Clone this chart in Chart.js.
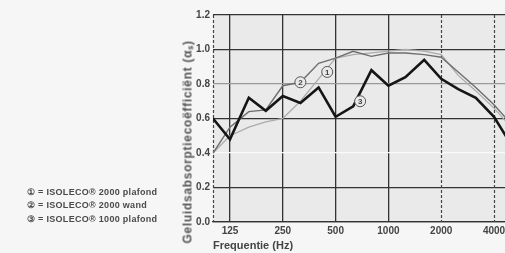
<!DOCTYPE html>
<html>
<head>
<meta charset="utf-8">
<script src="https://cdn.jsdelivr.net/npm/chart.js@4/dist/chart.umd.min.js"></script>
<style>
  html, body { margin: 0; padding: 0; background: #f6f6f6; overflow: hidden; }
  #wrap { position: absolute; left: 0; top: 0; width: 511px; height: 253px; }
  .legend { position: absolute; left: 27px; font: bold 9px "Liberation Sans", Arial, sans-serif; color: #4a4a4a;
            white-space: nowrap; letter-spacing: 0.3px; }
  #ytitle { position: absolute; left: 187px; top: 142px; transform: translate(-50%, -50%) rotate(-90deg);
            font: bold 12px "Liberation Sans", Arial, sans-serif; color: #555; white-space: nowrap; letter-spacing: 0.7px; }
</style>
</head>
<body>
<div id="wrap"><canvas id="myChart"></canvas></div>
<div class="legend" style="top:187px">① = ISOLECO® 2000 plafond</div>
<div class="legend" style="top:200px">② = ISOLECO® 2000 wand</div>
<div class="legend" style="top:214px">③ = ISOLECO® 1000 plafond</div>
<div id="ytitle">Geluidsabsorptiecoëfficiënt (αₛ)</div>
<script>
// third-octave frequencies (Hz)
const freqs = [100, 125, 160, 200, 250, 315, 400, 500, 630, 800, 1000, 1250, 1600, 2000, 2500, 3150, 4000, 5000];
// 1 = ISOLECO 2000 plafond
const plafond2000 = [0.40, 0.50, 0.55, 0.58, 0.60, 0.70, 0.83, 0.95, 0.97, 0.98, 0.99, 1.00, 0.99, 0.97, 0.85, 0.76, 0.66, 0.55];
// 2 = ISOLECO 2000 wand
const wand2000 = [0.40, 0.55, 0.64, 0.65, 0.79, 0.81, 0.92, 0.95, 0.99, 0.96, 0.98, 0.98, 0.97, 0.955, 0.87, 0.78, 0.68, 0.57];
// 3 = ISOLECO 1000 plafond
const plafond1000 = [0.60, 0.48, 0.72, 0.645, 0.73, 0.69, 0.78, 0.61, 0.67, 0.88, 0.79, 0.84, 0.94, 0.83, 0.77, 0.72, 0.61, 0.45];

const xTicks = [125, 250, 500, 1000, 2000, 4000];
const dashedX = [2000, 4000];

// circled curve labels, anchored in data units
const markerFreqs = [448, 315, 690];
const markerVals = [0.87, 0.81, 0.70];
const markerLabels = ["1", "2", "3"];

const tickFont = { family: "Liberation Sans", size: 10, weight: "bold" };

const plotBackground = {
    id: "plotBackground",
    beforeDraw(chart) {
        const { ctx, chartArea: a } = chart;
        ctx.save();
        ctx.fillStyle = "#eaeaea";
        ctx.fillRect(a.left, a.top, a.right - a.left, a.bottom - a.top);
        ctx.restore();
    },
    beforeDatasetsDraw(chart) {
        const { ctx, chartArea: a, scales } = chart;
        ctx.save();
        ctx.strokeStyle = "#444";
        ctx.lineWidth = 1.2;
        ctx.setLineDash([3, 2]);
        [scales.x.min, ...dashedX].forEach(f => {
            const px = Math.round(scales.x.getPixelForValue(f)) + 0.5;
            ctx.beginPath();
            ctx.moveTo(px, a.top);
            ctx.lineTo(px, a.bottom);
            ctx.stroke();
        });
        ctx.restore();
    }
};

const curveMarkers = {
    id: "curveMarkers",
    afterDatasetsDraw(chart) {
        const { ctx, scales } = chart;
        ctx.save();
        markerFreqs.forEach((f, i) => {
            const px = scales.x.getPixelForValue(f);
            const py = scales.y.getPixelForValue(markerVals[i]);
            ctx.beginPath();
            ctx.arc(px, py, 5.5, 0, Math.PI * 2);
            ctx.fillStyle = "#eaeaea";
            ctx.fill();
            ctx.lineWidth = 1;
            ctx.strokeStyle = "#555";
            ctx.stroke();
            ctx.fillStyle = "#444";
            ctx.font = "bold 8px 'Liberation Sans'";
            ctx.textAlign = "center";
            ctx.textBaseline = "middle";
            ctx.fillText(markerLabels[i], px, py + 0.5);
        });
        ctx.restore();
    }
};

function yGridColor(ctx) {
    const v = Math.round(ctx.tick.value * 10) / 10;
    if (v === 0.4) return "#fafafa";
    if (v === 0.8) return "#9a9a9a";
    return "#333";
}

function xGridColor(ctx) {
    if (dashedX.includes(ctx.tick.value)) return "rgba(0,0,0,0)";
    return "#333";
}

new Chart("myChart", {
    type: "line",
    data: {
        datasets: [
            {
                label: "ISOLECO 1000 plafond",
                data: freqs.map((f, i) => ({ x: f, y: plafond1000[i] })),
                borderColor: "#151515",
                borderWidth: 2.6,
                order: 0
            },
            {
                label: "ISOLECO 2000 wand",
                data: freqs.map((f, i) => ({ x: f, y: wand2000[i] })),
                borderColor: "#6e6e6e",
                borderWidth: 1.4,
                order: 1
            },
            {
                label: "ISOLECO 2000 plafond",
                data: freqs.map((f, i) => ({ x: f, y: plafond2000[i] })),
                borderColor: "#ababab",
                borderWidth: 1.3,
                order: 2
            }
        ]
    },
    options: {
        responsive: true,
        maintainAspectRatio: false,
        animation: false,
        elements: { point: { radius: 0 }, line: { tension: 0 } },
        layout: { padding: { left: 175, top: 15, right: 0, bottom: 0 } },
        plugins: {
            legend: { display: false },
            tooltip: { enabled: false }
        },
        scales: {
            x: {
                type: "logarithmic",
                min: 100,
                max: 5000,
                afterBuildTicks: scale => { scale.ticks = xTicks.map(v => ({ value: v })); },
                afterFit: scale => { scale.height = 31; },
                ticks: {
                    autoSkip: false,
                    maxRotation: 0,
                    padding: 3,
                    color: "#444",
                    font: tickFont,
                    callback: v => String(v)
                },
                grid: { color: xGridColor, lineWidth: 1.3, drawTicks: false },
                border: { display: true, color: "#333", width: 1.3 },
                title: {
                    display: true,
                    text: "Frequentie (Hz)",
                    align: "start",
                    color: "#444",
                    font: { family: "Liberation Sans", size: 11, weight: "bold" },
                    padding: { top: 0, bottom: 0 }
                }
            },
            y: {
                min: 0,
                max: 1.2,
                afterFit: scale => { scale.width = 38; },
                ticks: {
                    stepSize: 0.2,
                    padding: 3,
                    color: "#444",
                    font: tickFont,
                    callback: v => v.toFixed(1)
                },
                grid: { color: yGridColor, lineWidth: 1.3, drawTicks: false },
                border: { display: false }
            }
        }
    },
    plugins: [plotBackground, curveMarkers]
});
</script>
</body>
</html>
